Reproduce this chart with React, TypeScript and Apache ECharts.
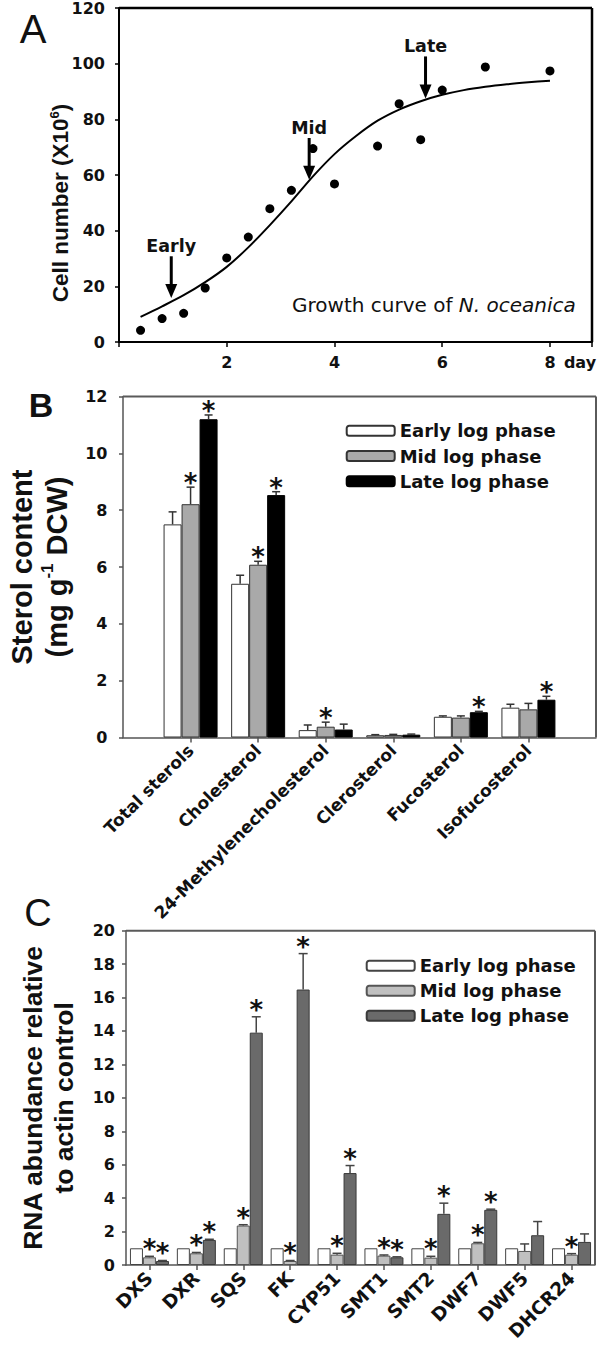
import React, { useEffect, useRef } from 'react';
import * as echarts from 'echarts';

const SANS = '"DejaVu Sans", "Liberation Sans", sans-serif';
const ARIAL = '"Liberation Sans", Arial, sans-serif';
const INK = '#111111';

// ---------- Panel A : growth curve ----------
const growthDays = [0.4, 0.8, 1.2, 1.6, 2.0, 2.4, 2.8, 3.2, 3.6, 4.0, 4.8, 5.2, 5.6, 6.0, 6.8, 8.0];
const cellNumbers = [4.2, 8.4, 10.3, 19.4, 30.2, 37.7, 47.9, 54.5, 69.5, 56.8, 70.4, 85.6, 72.7, 90.5, 98.8, 97.4];
const curveDays = [0.4, 0.8, 1.2, 1.6, 2.0, 2.4, 2.8, 3.2, 3.6, 4.0, 4.4, 4.8, 5.2, 5.6, 6.0, 6.4, 6.8, 7.2, 7.6, 8.0];
const curveCells = [9.0, 12.8, 16.8, 21.5, 27.0, 34.0, 42.0, 50.5, 59.5, 67.5, 74.0, 79.5, 83.5, 86.5, 88.8, 90.5, 91.7, 92.6, 93.3, 93.9];
const phaseLabels = ['Early', 'Mid', 'Late'];
const phaseDays = [0.97, 3.53, 5.69];
const arrowTail = [30.8, 73.3, 102.6];
const arrowHead = [15.8, 58.3, 87.5];

// ---------- Panel B : sterol content ----------
const legendNames = ['Early log phase', 'Mid log phase', 'Late log phase'];
const sterols = ['Total sterols', 'Cholesterol', '24-Methylenecholesterol', 'Clerosterol', 'Fucosterol', 'Isofucosterol'];
const sterolEarly = [7.5, 5.41, 0.26, 0.08, 0.73, 1.05];
const sterolEarlyErr = [0.44, 0.3, 0.18, 0.02, 0.03, 0.12];
const sterolMid = [8.21, 6.08, 0.38, 0.09, 0.7, 0.99];
const sterolMidErr = [0.6, 0.12, 0.16, 0.02, 0.06, 0.21];
const sterolLate = [11.2, 8.53, 0.28, 0.1, 0.89, 1.33];
const sterolLateErr = [0.15, 0.12, 0.19, 0.02, 0.03, 0.12];
const sterolEarlyStar = [0, 0, 0, 0, 0, 0];
const sterolMidStar = [1, 1, 1, 0, 0, 0];
const sterolLateStar = [1, 1, 0, 0, 1, 1];

// ---------- Panel C : RNA abundance ----------
const genes = ['DXS', 'DXR', 'SQS', 'FK', 'CYP51', 'SMT1', 'SMT2', 'DWF7', 'DWF5', 'DHCR24'];
const rnaEarly = [1, 1, 1, 1, 1, 1, 1, 1, 1, 1];
const rnaEarlyErr = [0, 0, 0, 0, 0, 0, 0, 0, 0, 0];
const rnaMid = [0.46, 0.7, 2.36, 0.24, 0.62, 0.56, 0.44, 1.3, 0.84, 0.62];
const rnaMidErr = [0.06, 0.05, 0.05, 0.03, 0.08, 0.04, 0.08, 0.05, 0.42, 0.06];
const rnaLate = [0.24, 1.5, 13.9, 16.48, 5.5, 0.46, 3.06, 3.3, 1.78, 1.38];
const rnaLateErr = [0.03, 0.04, 0.95, 2.15, 0.45, 0.03, 0.64, 0.04, 0.82, 0.48];
const rnaEarlyStar = [0, 0, 0, 0, 0, 0, 0, 0, 0, 0];
const rnaMidStar = [1, 1, 1, 1, 1, 1, 1, 1, 0, 1];
const rnaLateStar = [1, 1, 1, 1, 1, 1, 1, 1, 0, 0];

const tickFont = { fontFamily: SANS, fontWeight: 'bold', fontSize: 16, color: INK };

const gridA = { left: 119, top: 8, width: 473, height: 334, outerBoundsMode: 'none', containLabel: false };
const gridB = { left: 123, top: 16.5, width: 473, height: 341, outerBoundsMode: 'none', containLabel: false };
const gridC = { left: 126, top: 40.7, width: 469, height: 334.3, outerBoundsMode: 'none', containLabel: false };

// top + right sides of the plot box, drawn from the cartesian system itself
function frameSeries(color: string, width: number, xVal: any) {
  return {
    type: 'custom', silent: true, z: 10, clip: false,
    data: [[xVal, 0]], encode: { x: 0, y: 1 },
    renderItem: (params: any) => {
      const cs = params.coordSys;
      const x0 = cs.x, y0 = cs.y, x1 = cs.x + cs.width, y1 = cs.y + cs.height;
      return {
        type: 'group',
        children: [
          { type: 'line', shape: { x1: x0, y1: y0, x2: x1, y2: y0 }, style: { stroke: color, lineWidth: width } },
          { type: 'line', shape: { x1: x1, y1: y0, x2: x1, y2: y1 }, style: { stroke: color, lineWidth: width } },
        ],
      };
    },
  };
}

function errorBars(slot: number, barW: number, capW: number, color: string, starLift: number) {
  return (params: any, api: any) => {
    const c = api.value(0);
    const v = api.value(1);
    const e = api.value(2);
    const s = api.value(3);
    const base = api.coord([c, v]);
    const top = api.coord([c, v + e]);
    const cx = base[0] + slot * barW;
    const kids: any[] = [];
    if (e > 0) {
      kids.push({ type: 'line', shape: { x1: cx, y1: base[1], x2: cx, y2: top[1] }, style: { stroke: color, lineWidth: 1.5 } });
      kids.push({ type: 'line', shape: { x1: cx - capW / 2, y1: top[1], x2: cx + capW / 2, y2: top[1] }, style: { stroke: color, lineWidth: 1.5 } });
    }
    if (s) {
      kids.push({
        type: 'text', x: cx, y: top[1] - starLift,
        style: { text: '*', fill: INK, fontFamily: SANS, fontWeight: 'bold', fontSize: 26, align: 'center', verticalAlign: 'middle', textAlign: 'center', textVerticalAlign: 'middle' },
      });
    }
    return { type: 'group', children: kids };
  };
}

function arrows(params: any, api: any) {
  const x = api.value(0);
  const p1 = api.coord([x, api.value(1)]);
  const p2 = api.coord([x, api.value(2)]);
  const headLen = 14;
  const headW = 12;
  return {
    type: 'group',
    children: [
      { type: 'line', shape: { x1: p1[0], y1: p1[1], x2: p2[0], y2: p2[1] - headLen + 2 }, style: { stroke: '#000', lineWidth: 3 } },
      { type: 'polygon', shape: { points: [[p2[0] - headW / 2, p2[1] - headLen], [p2[0] + headW / 2, p2[1] - headLen], [p2[0], p2[1]]] }, style: { fill: '#000' } },
      {
        type: 'text', x: p1[0], y: p1[1] - 1,
        style: { text: phaseLabels[params.dataIndex], fill: INK, fontFamily: SANS, fontWeight: 'bold', fontSize: 17.5, align: 'center', verticalAlign: 'bottom', textAlign: 'center', textVerticalAlign: 'bottom' },
      },
    ],
  };
}

const optionA: any = {
  animation: false,
  grid: gridA,
  xAxis: {
    type: 'value', min: 0, max: 8.78, interval: 2,
    axisLine: { show: true, lineStyle: { color: '#000', width: 2 } },
    axisTick: { show: true, length: 5, lineStyle: { color: '#000', width: 1.5 } },
    splitLine: { show: false },
    axisLabel: { ...tickFont, margin: 12, formatter: (v: number) => (v > 0 && v <= 8 ? String(v) : '') },
  },
  yAxis: {
    type: 'value', min: 0, max: 120, interval: 20,
    axisLine: { show: true, lineStyle: { color: '#000', width: 2 } },
    axisTick: { show: true, length: 4, lineStyle: { color: '#000', width: 1.5 } },
    splitLine: { show: false },
    axisLabel: { ...tickFont, margin: 14 },
  },
  graphic: [
    { type: 'text', x: 33, y: 29, style: { text: 'A', fill: INK, fontFamily: ARIAL, fontSize: 40, align: 'center', verticalAlign: 'middle', textAlign: 'center', textVerticalAlign: 'middle' } },
    {
      type: 'text', x: 60, y: 203, rotation: Math.PI / 2,
      style: {
        text: 'Cell number (X10{sup|6})', fill: INK, fontFamily: ARIAL, fontWeight: 'bold', fontSize: 22.5,
        align: 'center', verticalAlign: 'middle', textAlign: 'center', textVerticalAlign: 'middle',
        rich: { sup: { fontFamily: ARIAL, fontWeight: 'bold', fontSize: 13, verticalAlign: 'top', lineHeight: 24, fill: INK } },
      },
    },
    { type: 'text', x: 580, y: 362, style: { text: 'day', fill: INK, fontFamily: SANS, fontWeight: 'bold', fontSize: 16, align: 'center', verticalAlign: 'middle', textAlign: 'center', textVerticalAlign: 'middle' } },
    {
      type: 'text', x: 292, y: 305,
      style: {
        text: '{n|Growth curve of }{i|N. oceanica}', fill: INK, align: 'left', verticalAlign: 'middle', textAlign: 'left', textVerticalAlign: 'middle',
        rich: {
          n: { fontFamily: SANS, fontSize: 20, fill: INK, color: INK },
          i: { fontFamily: SANS, fontSize: 20, fontStyle: 'italic', fill: INK, color: INK },
        },
      },
    },
  ],
  series: [
    frameSeries('#000000', 2.5, 1),
    { type: 'line', data: curveDays.map((d, i) => [d, curveCells[i]]), smooth: 0.3, symbol: 'none', lineStyle: { color: '#000', width: 2 }, z: 2 },
    { type: 'scatter', data: growthDays.map((d, i) => [d, cellNumbers[i]]), symbolSize: 9, itemStyle: { color: '#000', opacity: 1 }, z: 3 },
    { type: 'custom', renderItem: arrows, data: phaseDays.map((d, i) => [d, arrowTail[i], arrowHead[i]]), encode: { x: 0, y: [1, 2] }, z: 4 },
  ],
};

const bStyles = [
  { color: '#ffffff', borderColor: '#333', borderWidth: 1 },
  { color: '#a9a9a9', borderColor: '#333', borderWidth: 1 },
  { color: '#000000', borderColor: '#000', borderWidth: 1 },
];
const bVals = [sterolEarly, sterolMid, sterolLate];
const bErrs = [sterolEarlyErr, sterolMidErr, sterolLateErr];
const bStars = [sterolEarlyStar, sterolMidStar, sterolLateStar];

const optionB: any = {
  animation: false,
  grid: gridB,
  legend: {
    left: 340.7, top: 34.7, orient: 'vertical', itemWidth: 48, itemHeight: 10, itemGap: 3.3, icon: 'roundRect',
    data: legendNames,
    textStyle: { fontFamily: SANS, fontWeight: 'bold', fontSize: 18, color: INK, lineHeight: 22 },
  },
  xAxis: {
    type: 'category', data: ['', ...sterols, ''], boundaryGap: false,
    axisLine: { show: true, lineStyle: { color: '#555', width: 1.5 } },
    axisTick: { show: true, length: 5, interval: (i: number) => i > 0 && i < sterols.length + 1, lineStyle: { color: '#555', width: 1.5 } },
    axisLabel: { ...tickFont, fontSize: 17, interval: 0, rotate: 45, margin: 10 },
  },
  yAxis: {
    type: 'value', min: 0, max: 12, interval: 2,
    name: 'Sterol content\n(mg g{sup|-1} DCW)', nameLocation: 'middle', nameRotate: 90, nameGap: 48.5,
    nameTextStyle: {
      fontFamily: ARIAL, fontWeight: 'bold', fontSize: 29, color: INK, lineHeight: 35, align: 'center',
      rich: { sup: { fontFamily: ARIAL, fontWeight: 'bold', fontSize: 17, verticalAlign: 'top', lineHeight: 35, color: INK } },
    },
    axisLine: { show: true, lineStyle: { color: '#555', width: 1.5 } },
    axisTick: { show: true, length: 4, lineStyle: { color: '#555', width: 1.5 } },
    splitLine: { show: false },
    axisLabel: { ...tickFont, margin: 15.5 },
  },
  graphic: [
    { type: 'text', x: 41, y: 25, style: { text: 'B', fill: INK, fontFamily: ARIAL, fontWeight: 'bold', fontSize: 34, align: 'center', verticalAlign: 'middle', textAlign: 'center', textVerticalAlign: 'middle' } },
  ],
  series: [
    frameSeries('#5a5a5a', 2, 1),
    ...legendNames.map((name, k) => ({
      name, type: 'bar', data: ['-', ...bVals[k], '-'], barWidth: 18, barGap: '0%', itemStyle: bStyles[k], z: 2,
    })),
    ...legendNames.map((_, k) => ({
      type: 'custom', renderItem: errorBars(k - 1, 18, 8, '#333', 4),
      data: bVals[k].map((v, i) => [i + 1, v, bErrs[k][i], bStars[k][i]]), encode: { x: 0, y: 1 }, z: 5,
    })),
  ],
};

const cStyles = [
  { color: '#ffffff', borderColor: '#444', borderWidth: 1 },
  { color: '#c0c0c0', borderColor: '#555', borderWidth: 1 },
  { color: '#6a6a6a', borderColor: '#3a3a3a', borderWidth: 1 },
];
const cVals = [rnaEarly, rnaMid, rnaLate];
const cErrs = [rnaEarlyErr, rnaMidErr, rnaLateErr];
const cStars = [rnaEarlyStar, rnaMidStar, rnaLateStar];

const optionC: any = {
  animation: false,
  grid: gridC,
  legend: {
    left: 360.7, top: 59.7, orient: 'vertical', itemWidth: 48, itemHeight: 10, itemGap: 3, icon: 'roundRect',
    data: legendNames,
    textStyle: { fontFamily: SANS, fontWeight: 'bold', fontSize: 18, color: INK, lineHeight: 22 },
  },
  xAxis: {
    type: 'category', data: genes, boundaryGap: true,
    axisLine: { show: true, lineStyle: { color: '#555', width: 1.5 } },
    axisTick: { show: true, length: 5, alignWithLabel: true, lineStyle: { color: '#555', width: 1.5 } },
    axisLabel: { ...tickFont, fontSize: 18.5, interval: 0, rotate: 45, margin: 10 },
  },
  yAxis: {
    type: 'value', min: 0, max: 20, interval: 2,
    name: 'RNA abundance relative\nto actin control', nameLocation: 'middle', nameRotate: 90, nameGap: 46.5,
    nameTextStyle: { fontFamily: ARIAL, fontWeight: 'bold', fontSize: 26.5, color: INK, lineHeight: 31, align: 'center' },
    axisLine: { show: true, lineStyle: { color: '#555', width: 1.5 } },
    axisTick: { show: true, length: 4, lineStyle: { color: '#555', width: 1.5 } },
    splitLine: { show: false },
    axisLabel: { ...tickFont, margin: 11 },
  },
  graphic: [
    { type: 'text', x: 38, y: 23, style: { text: 'C', fill: INK, fontFamily: ARIAL, fontSize: 38, align: 'center', verticalAlign: 'middle', textAlign: 'center', textVerticalAlign: 'middle' } },
  ],
  series: [
    frameSeries('#5a5a5a', 2, 0),
    ...legendNames.map((name, k) => ({
      name, type: 'bar', data: cVals[k], barWidth: 13, barGap: '0%', itemStyle: cStyles[k], z: 2,
    })),
    ...legendNames.map((_, k) => ({
      type: 'custom', renderItem: errorBars(k - 1, 13, 9, '#444', 7),
      data: cVals[k].map((v, i) => [i, v, cErrs[k][i], cStars[k][i]]), encode: { x: 0, y: 1 }, z: 5,
    })),
  ],
};

function Chart({ option, top, height }: { option: any; top: number; height: number }) {
  const ref = useRef<HTMLDivElement>(null);
  useEffect(() => {
    const chart = echarts.init(ref.current as HTMLDivElement, null, { renderer: 'svg' });
    chart.setOption(option);
    return () => chart.dispose();
  }, [option]);
  return <div ref={ref} style={{ position: 'absolute', left: 0, top, width: 600, height }} />;
}

export default function App() {
  return (
    <div style={{ position: 'absolute', left: 0, top: 0, width: 600, height: 1347, background: '#fff', overflow: 'hidden' }}>
      <Chart option={optionA} top={0} height={385} />
      <Chart option={optionB} top={380} height={555} />
      <Chart option={optionC} top={890} height={457} />
    </div>
  );
}
